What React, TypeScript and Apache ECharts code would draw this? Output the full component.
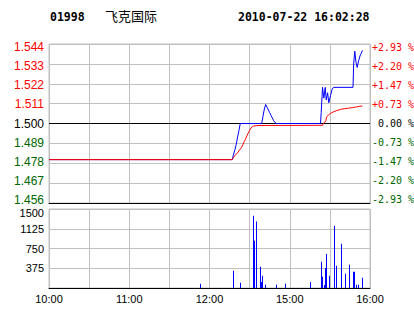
import React, { useEffect, useRef } from "react";
import * as echarts from "echarts";

// ---- header ----
const stockCode = "01998";
const stockName = "飞克国际";
const timestamp = "2010-07-22 16:02:28";

// ---- axes ----
const timeTicks = ["10:00", "11:00", "12:00", "15:00", "16:00"]; // every 60 trading minutes
const sessionMinutes = 240;
const prevClose = 1.5;
const priceMin = 1.456;
const priceMax = 1.544;
const priceStep = 0.011;
const volMax = 1500;
const volStep = 375;

// ---- price (blue) : trading minute, price ----
const priceTimes = [
  0, 137, 138, 139, 140, 141, 142, 143, 159, 160, 161, 162, 163, 164, 165, 166, 167, 168, 169, 170,
  203, 203.5, 204.5, 205.5, 206.5, 207.3, 208.3, 209.2, 210.5, 211.7, 212.7, 227.3, 227.8, 228.6,
  229.5, 230.4, 231.6, 232.8, 233.6, 234.3,
];
const priceValues = [
  1.48, 1.48, 1.483, 1.4855, 1.4885, 1.4925, 1.496, 1.5, 1.5, 1.504, 1.508, 1.5105, 1.509, 1.5075,
  1.506, 1.5045, 1.503, 1.5015, 1.5005, 1.5, 1.5, 1.506, 1.52, 1.514, 1.52, 1.513, 1.517, 1.5115,
  1.5155, 1.519, 1.52, 1.52, 1.533, 1.54, 1.534, 1.531, 1.535, 1.538, 1.539, 1.5405,
];

// ---- average price (red) ----
const avgTimes = [
  0, 137, 138, 139, 140, 141, 142, 143, 144, 145, 146, 147, 148, 149, 150, 151, 152, 153, 155, 157,
  204.5, 205.5, 207, 207.5, 209, 210.5, 212.5, 215, 218, 221, 224, 227, 230, 232, 234.3,
];
const avgValues = [
  1.48, 1.48, 1.4812, 1.4822, 1.483, 1.4838, 1.4848, 1.4858, 1.4868, 1.4885, 1.49, 1.4915, 1.4932,
  1.4948, 1.4962, 1.4975, 1.4982, 1.4986, 1.4988, 1.4989, 1.499, 1.5003, 1.5015, 1.5035, 1.5048,
  1.5056, 1.5064, 1.5071, 1.5078, 1.5082, 1.5085, 1.5088, 1.5092, 1.5095, 1.5097,
];

// ---- volume ----
const volTimes = [
  112.9, 137.6, 142.8, 152.5, 153.3, 154.8, 157.8, 158.5, 159.3, 161.5, 169.7, 176.5, 195.2, 203.4,
  204.1, 205.6, 206.4, 207.1, 209.4, 213.1, 214.6, 218.3, 221.3, 224.3, 227.3, 228, 229.5, 231, 234,
];
const volValues = [
  82, 328, 101, 1373, 898, 1265, 404, 114, 234, 63, 63, 82, 114, 500, 215, 57, 380, 645, 234, 1183,
  424, 841, 272, 443, 310, 310, 63, 63, 196,
];

const GRID_COLOR = "#C0C0C0";
const UP = "#FF0000";
const DOWN = "#006600";

function levelColor(v: number) {
  if (v > prevClose + 1e-6) return UP;
  if (v < prevClose - 1e-6) return DOWN;
  return "#000000";
}

// price labels are spread slightly tighter than the grid lines (as in the original)
function shiftRich() {
  const rich: any = {};
  for (let k = 0; k <= 8; k++) {
    const s = (4 - k) * 0.85; // positive: move down
    rich["r" + k] = { padding: s >= 0 ? [2 * s, 0, 0, 0] : [0, 0, -2 * s, 0] };
  }
  return rich;
}
function levelIndex(v: number) {
  return Math.round((priceMax - v) / priceStep);
}

export default function App() {
  const ref = useRef<HTMLDivElement>(null);
  useEffect(() => {
    if (!ref.current) return;
    const chart = echarts.init(ref.current, null, { renderer: "svg" });
    const priceData = priceTimes.map((t, i) => [t, priceValues[i]]);
    const avgData = avgTimes.map((t, i) => [t, avgValues[i]]);
    const volData = volTimes.map((t, i) => [t, volValues[i]]);
    const monoBold = "bold 11.5px 'DejaVu Sans Mono'";
    const rich = shiftRich();
    const option: any = {
      animation: false,
      backgroundColor: "#ffffff",
      graphic: [
        {
          type: "text",
          x: 50,
          y: 16.5,
          style: { text: stockCode, font: monoBold, fill: "#000", textVerticalAlign: "middle", verticalAlign: "middle" },
        },
        {
          type: "text",
          x: 105,
          y: 15,
          style: {
            text: stockName,
            font: "13px 'Noto Sans CJK SC'",
            fill: "#000",
            textVerticalAlign: "middle",
            verticalAlign: "middle",
          },
        },
        {
          type: "text",
          x: 238,
          y: 16.5,
          style: { text: timestamp, font: monoBold, fill: "#000", textVerticalAlign: "middle", verticalAlign: "middle" },
        },
      ],
      grid: [
        {
          left: 49,
          top: 44,
          width: 321,
          height: 159,
          show: true,
          borderColor: GRID_COLOR,
          borderWidth: 1,
          containLabel: false,
          outerBoundsMode: "none",
        },
        {
          left: 49,
          top: 209,
          width: 321,
          height: 79,
          show: true,
          borderColor: GRID_COLOR,
          borderWidth: 1,
          containLabel: false,
          outerBoundsMode: "none",
        },
      ],
      xAxis: [
        {
          type: "value",
          gridIndex: 0,
          min: 0,
          max: sessionMinutes,
          interval: 30,
          axisLine: { show: true, onZero: false, lineStyle: { color: "#000", width: 1 } },
          axisTick: { show: false },
          axisLabel: { show: false },
          splitLine: { show: true, lineStyle: { color: GRID_COLOR, width: 1 } },
        },
        {
          type: "value",
          gridIndex: 1,
          min: 0,
          max: sessionMinutes,
          interval: 30,
          axisLine: { show: true, onZero: false, lineStyle: { color: "#000", width: 1 } },
          axisTick: { show: false },
          axisLabel: {
            show: true,
            margin: 5,
            color: "#000",
            fontSize: 11,
            fontFamily: "'Liberation Sans', Arial, sans-serif",
            showMinLabel: true,
            showMaxLabel: true,
            hideOverlap: false,
            formatter: (v: number) => (Math.round(v) % 60 === 0 ? timeTicks[Math.round(v) / 60] : ""),
          },
          splitLine: { show: true, lineStyle: { color: GRID_COLOR, width: 1 } },
        },
      ],
      yAxis: [
        {
          type: "value",
          gridIndex: 0,
          position: "left",
          min: priceMin,
          max: priceMax,
          interval: priceStep,
          axisLine: { show: false },
          axisTick: { show: false },
          splitLine: { show: true, lineStyle: { color: GRID_COLOR, width: 1 } },
          axisLabel: {
            margin: 5,
            fontSize: 12,
            fontFamily: "'Liberation Sans', Arial, sans-serif",
            showMinLabel: true,
            showMaxLabel: true,
            hideOverlap: false,
            rich,
            formatter: (v: number) => "{r" + levelIndex(v) + "|" + v.toFixed(3) + "}",
            color: (v: any) => levelColor(parseFloat(v)),
          },
        },
        {
          type: "value",
          gridIndex: 0,
          position: "right",
          min: priceMin,
          max: priceMax,
          interval: priceStep,
          axisLine: { show: false },
          axisTick: { show: false },
          splitLine: { show: false },
          axisLabel: {
            margin: 2,
            fontSize: 10,
            fontFamily: "'DejaVu Sans Mono', monospace",
            showMinLabel: true,
            showMaxLabel: true,
            hideOverlap: false,
            rich,
            formatter: (v: number) => {
              const p = ((v - prevClose) / prevClose) * 100;
              let s = "\u00a00.00 %";
              if (p > 1e-4) s = "+" + p.toFixed(2) + " %";
              else if (p < -1e-4) s = "-" + Math.abs(p).toFixed(2) + " %";
              return "{r" + levelIndex(v) + "|" + s + "}";
            },
            color: (v: any) => levelColor(parseFloat(v)),
          },
        },
        {
          type: "value",
          gridIndex: 1,
          min: 0,
          max: volMax,
          interval: volStep,
          axisLine: { show: false },
          axisTick: { show: false },
          splitLine: { show: true, lineStyle: { color: GRID_COLOR, width: 1 } },
          axisLabel: {
            margin: 5,
            fontSize: 11,
            color: "#000",
            fontFamily: "'Liberation Sans', Arial, sans-serif",
            showMaxLabel: true,
            hideOverlap: false,
            rich: { top: { padding: [8, 0, 0, 0] }, mid: {} },
            formatter: (v: number) => (v === 0 ? "" : v === volMax ? "{top|" + v + "}" : "{mid|" + v + "}"),
          },
        },
      ],
      series: [
        {
          type: "line",
          xAxisIndex: 0,
          yAxisIndex: 0,
          data: [
            [0, prevClose],
            [sessionMinutes, prevClose],
          ],
          symbol: "none",
          lineStyle: { color: "#000", width: 1 },
          silent: true,
          z: 2,
        },
        {
          type: "line",
          xAxisIndex: 0,
          yAxisIndex: 0,
          data: priceData,
          symbol: "none",
          lineStyle: { color: "#0000FF", width: 1 },
          z: 3,
        },
        {
          type: "line",
          xAxisIndex: 0,
          yAxisIndex: 0,
          data: avgData,
          symbol: "none",
          lineStyle: { color: "#FF0000", width: 1 },
          z: 4,
        },
        {
          type: "custom",
          xAxisIndex: 1,
          yAxisIndex: 2,
          data: volData,
          encode: { x: 0, y: 1 },
          renderItem: (params: any, api: any) => {
            const top = api.coord([api.value(0), api.value(1)]);
            const base = api.coord([api.value(0), 0]);
            return {
              type: "rect",
              shape: { x: Math.round(top[0]), y: top[1], width: 1, height: base[1] - top[1] },
              style: { fill: "#0000FF" },
            };
          },
        },
      ],
    };
    chart.setOption(option);
    return () => chart.dispose();
  }, []);
  return (
    <div
      ref={ref}
      style={{ position: "absolute", left: 0, top: 0, width: 414, height: 314, background: "#fff" }}
    />
  );
}
